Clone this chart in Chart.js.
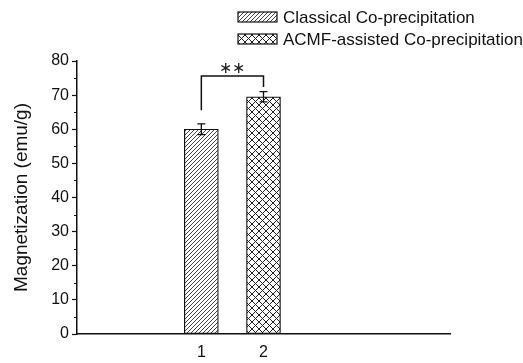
<!DOCTYPE html>
<html lang="en">
<head>
    <meta charset="UTF-8">
    <title>Magnetization by Preparation Method</title>
    <script src="https://cdn.jsdelivr.net/npm/chart.js"></script>
    <style>
        body { margin: 0; background: #fff; }
        #wrap { width: 523px; height: 363px; }
    </style>
</head>
<body>
    <div id="wrap"><canvas id="magChart" width="523" height="363"></canvas></div>

    <script>
        // Sample data
        const methods = ['Classical Co-precipitation', 'ACMF-assisted Co-precipitation'];
        const positions = [1, 2];
        const magnetization = [60.0, 69.5];
        const errors = [1.6, 1.5];
        const yTicks = [0, 10, 20, 30, 40, 50, 60, 70, 80];
        const significance = '**';

        const FONT = "'Liberation Sans', Arial, sans-serif";

        // Hatch fills, built on small tiles
        function makeHatch(kind) {
            const c = document.createElement('canvas');
            const size = kind === 'diag' ? 4 : 7;
            c.width = size; c.height = size;
            const g = c.getContext('2d');
            g.fillStyle = '#fff';
            g.fillRect(0, 0, size, size);
            g.strokeStyle = kind === 'diag' ? '#444' : '#222';
            g.lineWidth = 1;
            g.beginPath();
            g.moveTo(-1, size + 1); g.lineTo(size + 1, -1);
            if (kind === 'cross') {
                g.moveTo(-1, -1); g.lineTo(size + 1, size + 1);
            }
            g.stroke();
            return g.createPattern(c, 'repeat');
        }
        const fills = [makeHatch('diag'), makeHatch('cross')];

        const datasets = methods.map((name, i) => ({
            label: name,
            data: [{ x: positions[i], y: magnetization[i] }],
            backgroundColor: fills[i],
            borderColor: '#111',
            borderWidth: 1.2,
            borderSkipped: false,
            barThickness: 34,
            grouped: false
        }));

        // error bars, significance bracket, minor ticks and legend
        const extras = {
            id: 'extras',
            afterDatasetsDraw(chart) {
                const { ctx, scales: { x, y } } = chart;
                ctx.save();
                ctx.strokeStyle = '#111';
                ctx.lineWidth = 1.3;

                positions.forEach((p, i) => {
                    const px = x.getPixelForValue(p);
                    const top = y.getPixelForValue(magnetization[i] + errors[i]);
                    const bot = y.getPixelForValue(magnetization[i] - errors[i]);
                    ctx.beginPath();
                    ctx.moveTo(px, top); ctx.lineTo(px, bot);
                    ctx.moveTo(px - 4, top); ctx.lineTo(px + 4, top);
                    ctx.moveTo(px - 4, bot); ctx.lineTo(px + 4, bot);
                    ctx.stroke();
                });

                // bracket between the two bars
                const x1 = x.getPixelForValue(positions[0]);
                const x2 = x.getPixelForValue(positions[1]);
                const yTop = y.getPixelForValue(75.6);
                ctx.lineWidth = 1.5;
                ctx.beginPath();
                ctx.moveTo(x1, y.getPixelForValue(65.6));
                ctx.lineTo(x1, yTop);
                ctx.lineTo(x2, yTop);
                ctx.lineTo(x2, y.getPixelForValue(72.4));
                ctx.stroke();
                ctx.fillStyle = '#222';
                ctx.font = `16px ${FONT}`;
                ctx.textAlign = 'center';
                ctx.textBaseline = 'middle';
                ctx.fillText('\u2217\u2217', (x1 + x2) / 2, yTop - 7);

                // minor ticks on the y axis
                ctx.lineWidth = 1.2;
                ctx.beginPath();
                for (let v = 5; v < 80; v += 10) {
                    const py = Math.round(y.getPixelForValue(v)) + 0.5;
                    ctx.moveTo(y.right - 3, py); ctx.lineTo(y.right, py);
                }
                ctx.stroke();

                // legend
                ctx.font = `17px ${FONT}`;
                ctx.textAlign = 'left';
                ctx.textBaseline = 'middle';
                methods.forEach((name, i) => {
                    const ly = 17 + i * 22;
                    ctx.fillStyle = fills[i];
                    ctx.fillRect(238, ly - 5, 39, 10);
                    ctx.lineWidth = 1.2;
                    ctx.strokeRect(238, ly - 5, 39, 10);
                    ctx.fillStyle = '#111';
                    ctx.fillText(name, 283, ly + 1);
                });
                ctx.restore();
            }
        };

        new Chart(document.getElementById('magChart'), {
            type: 'bar',
            data: { datasets },
            options: {
                responsive: false,
                animation: false,
                layout: { padding: { top: 61, right: 73, left: 10, bottom: 0 } },
                plugins: { legend: { display: false }, tooltip: { enabled: false } },
                scales: {
                    x: {
                        type: 'linear',
                        min: -1,
                        max: 5,
                        offset: false,
                        afterBuildTicks: s => { s.ticks = positions.map(v => ({ value: v })); },
                        afterFit: s => { s.height = 29; },
                        grid: { display: false, drawTicks: false, offset: false },
                        border: { color: '#111', width: 1.5 },
                        ticks: { color: '#111', padding: 9, font: { family: FONT, size: 16 } }
                    },
                    y: {
                        min: 0,
                        max: 80,
                        afterBuildTicks: s => { s.ticks = yTicks.map(v => ({ value: v })); },
                        afterFit: s => { s.width = 67; },
                        grid: { drawOnChartArea: false, tickLength: 5, color: '#111', tickWidth: 1.2 },
                        border: { color: '#111', width: 1.5 },
                        ticks: { color: '#111', padding: 3, font: { family: FONT, size: 16 } },
                        title: {
                            display: true,
                            text: 'Magnetization (emu/g)',
                            color: '#111',
                            padding: 0,
                            font: { family: FONT, size: 19 }
                        }
                    }
                }
            },
            plugins: [extras]
        });
    </script>
</body>
</html>
